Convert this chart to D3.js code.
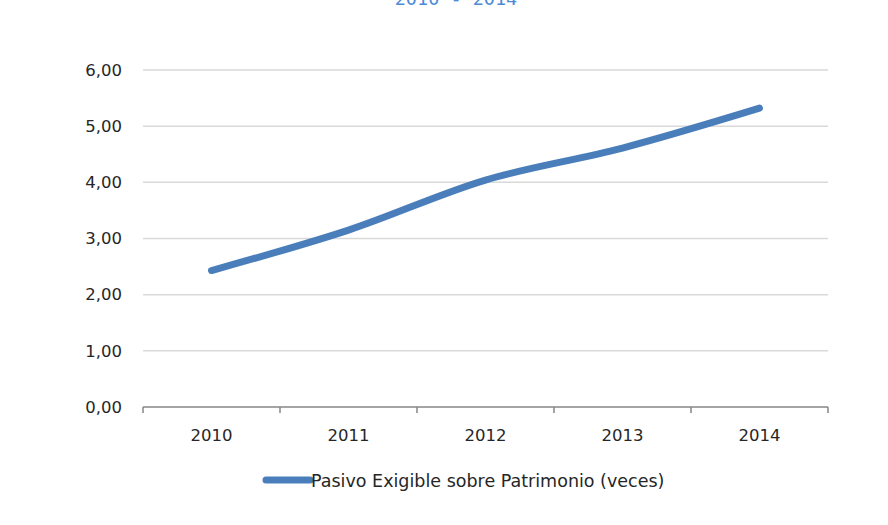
<!DOCTYPE html>
<html>
<head>
<meta charset="utf-8">
<script src="https://cdn.jsdelivr.net/npm/d3@7"></script>
<style>
  body { margin: 0; background: #fff; }
  svg { display: block; }
  text { font-family: "DejaVu Sans", "Noto Sans", sans-serif; }
</style>
</head>
<body>
<svg id="chart" width="888" height="525"></svg>
<script>
// Datos
const years = ["2010", "2011", "2012", "2013", "2014"];
const pasivo = [2.43, 3.15, 4.04, 4.61, 5.32];
const yTicks = [0, 1, 2, 3, 4, 5, 6];
const seriesName = "Pasivo Exigible sobre Patrimonio (veces)";
const title = "2010 - 2014";

const svg = d3.select("#chart");
const margin = { top: 70, right: 60, bottom: 118, left: 143 };
const width = 888 - margin.left - margin.right;
const height = 525 - margin.top - margin.bottom;

const x = d3.scaleBand().domain(years).range([0, width]);
const y = d3.scaleLinear().domain([0, 6]).range([height, 0]);
const fmt = d => d3.format(".2f")(d).replace(".", ",");

// Titulo (cortado arriba, como en el original)
svg.append("text")
    .attr("x", 456).attr("y", 5)
    .attr("text-anchor", "middle")
    .attr("fill", "#4d8ad8")
    .style("font-family", "'DejaVu Sans Mono', monospace")
    .style("font-size", "18.5px")
    .text(title);

const g = svg.append("g")
    .attr("transform", "translate(" + margin.left + "," + margin.top + ")");

// Lineas de cuadricula
g.append("g")
    .selectAll("line")
    .data(yTicks.filter(d => d > 0))
    .enter().append("line")
    .attr("x1", 0).attr("x2", width)
    .attr("y1", d => y(d)).attr("y2", d => y(d))
    .attr("stroke", "#d9d9d9")
    .attr("stroke-width", 1.5);

// Eje Y (sin linea)
const yAxis = g.append("g")
    .call(d3.axisLeft(y).tickValues(yTicks).tickFormat(fmt).tickSize(0).tickPadding(21));
yAxis.select(".domain").remove();
yAxis.selectAll("text")
    .style("font-size", "16.5px")
    .style("font-family", "'DejaVu Sans', sans-serif")
    .attr("fill", "#262626");

// Eje X
const xAxis = g.append("g")
    .attr("transform", "translate(0," + height + ")");
xAxis.append("line")
    .attr("x1", 0).attr("x2", width)
    .attr("stroke", "#868686").attr("stroke-width", 1.5);
xAxis.selectAll(".tk")
    .data(d3.range(years.length + 1))
    .enter().append("line")
    .attr("class", "tk")
    .attr("x1", i => i * x.bandwidth()).attr("x2", i => i * x.bandwidth())
    .attr("y1", 0).attr("y2", 6)
    .attr("stroke", "#868686").attr("stroke-width", 1.5);
xAxis.selectAll(".lbl")
    .data(years)
    .enter().append("text")
    .attr("class", "lbl")
    .attr("x", d => x(d) + x.bandwidth() / 2)
    .attr("y", 34)
    .attr("text-anchor", "middle")
    .attr("fill", "#262626")
    .style("font-size", "16.5px")
    .text(d => d);

// Serie
const line = d3.line()
    .x((d, i) => x(years[i]) + x.bandwidth() / 2)
    .y(d => y(d))
    .curve(d3.curveCatmullRom.alpha(0.5));

g.append("path")
    .datum(pasivo)
    .attr("d", line)
    .attr("fill", "none")
    .attr("stroke", "#4a7ebb")
    .attr("stroke-width", 7)
    .attr("stroke-linecap", "round")
    .attr("stroke-linejoin", "round");

// Leyenda
const leg = svg.append("g").attr("transform", "translate(266,480)");
leg.append("line")
    .attr("x1", 0).attr("x2", 44)
    .attr("stroke", "#4a7ebb").attr("stroke-width", 7)
    .attr("stroke-linecap", "round");
leg.append("text")
    .attr("x", 45).attr("y", 7)
    .attr("fill", "#262626")
    .style("font-size", "17.5px")
    .text(seriesName);
</script>
</body>
</html>
